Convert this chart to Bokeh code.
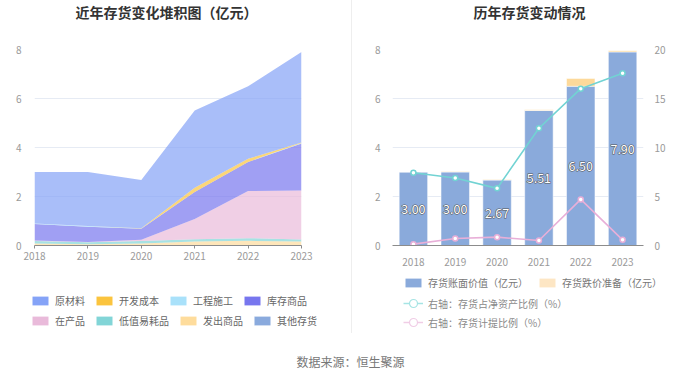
from bokeh.plotting import figure
from bokeh.models import (Range1d, FactorRange, LinearAxis, FixedTicker, Legend, LegendItem,
                          Label, ColumnDataSource, Div)
from bokeh.layouts import row, column
from bokeh.embed import file_html
from bokeh.resources import INLINE
from bokeh.core.properties import value

FONT = "Noto Sans CJK SC"

# ---------------- data ----------------
years = [2018, 2019, 2020, 2021, 2022, 2023]
year_labels = ["2018", "2019", "2020", "2021", "2022", "2023"]

# stacked inventory composition (亿元)
raw_material = [2.10, 2.20, 1.97, 3.15, 2.96, 3.70]   # 原材料
dev_cost = [0.00, 0.00, 0.01, 0.18, 0.13, 0.02]       # 开发成本
construction = [0.02, 0.03, 0.01, 0.00, 0.00, 0.02]   # 工程施工
goods_stock = [0.68, 0.63, 0.45, 1.10, 1.19, 1.91]    # 库存商品
wip = [0.02, 0.01, 0.05, 0.82, 1.92, 2.00]            # 在产品
low_value = [0.10, 0.08, 0.10, 0.10, 0.11, 0.09]      # 低值易耗品
shipped = [0.08, 0.05, 0.06, 0.15, 0.18, 0.15]        # 发出商品
other_inv = [0.00, 0.00, 0.02, 0.01, 0.01, 0.01]      # 其他存货

legend_names = ["原材料", "开发成本", "工程施工", "库存商品", "在产品", "低值易耗品", "发出商品", "其他存货"]
legend_colors = ["#85a3f7", "#fbc43e", "#a9e1fa", "#7776ee", "#e9bada", "#82d5d7", "#fedc9c", "#8aaadd"]

# right chart
book_value = [3.00, 3.00, 2.67, 5.51, 6.50, 7.90]          # 存货账面价值（亿元）
provision = [0.004, 0.022, 0.023, 0.028, 0.32, 0.046]     # 存货跌价准备（亿元）
ratio_net_assets = [7.43, 6.88, 5.83, 11.96, 16.0, 17.58]  # 存货占净资产比例（%）
provision_ratio = [0.14, 0.72, 0.85, 0.51, 4.70, 0.58]     # 存货计提比例（%）
right_legend = ["存货账面价值（亿元）", "存货跌价准备（亿元）", "右轴：存货占净资产比例（%）", "右轴：存货计提比例（%）"]

left_ticks = [0, 2, 4, 6, 8]
right_ticks = [0, 5, 10, 15, 20]

GRID = "#e6ebf4"
AXIS_TXT = "#9a9a9a"
AXIS_LINE = "#8c8c8c"
BAR_C = "#8aaadb"
PROV_C = "#fdd99a"
TEAL = "#72d3d3"
PINK = "#e8afd8"

LW = 351   # left column width
RW = 348   # right column width
CH = 236   # chart figure height
GH = 71    # legend panel height


def blank_fig(w, h):
    f = figure(width=w, height=h, output_backend="svg", toolbar_location=None,
               x_range=Range1d(0, 1), y_range=Range1d(0, 1), x_axis_type=None, y_axis_type=None,
               min_border=0, frame_align=False)
    f.outline_line_color = None
    f.grid.visible = False
    return f


def title_fig(w, text, cx):
    f = blank_fig(w, 38)
    f.add_layout(Label(x=cx, y=27, x_units="screen", y_units="screen", text=text,
                       text_align="center", text_baseline="middle", text_font=FONT,
                       text_font_size="14px", text_font_style="bold", text_color="#333333"))
    return f


def make_legend(fig, items, loc, color="#666666", gh=11):
    lg = Legend(items=items, orientation="horizontal", location=loc,
                glyph_width=20, glyph_height=gh, label_standoff=5, spacing=9,
                padding=0, margin=0, border_line_color=None, background_fill_alpha=0,
                label_text_font=FONT, label_text_font_size="10px",
                label_text_color=color, label_height=12, label_width=10)
    fig.add_layout(lg)
    return lg


def style_axis(ax):
    ax.major_label_text_font = FONT
    ax.major_label_text_font_size = "10px"
    ax.major_label_text_color = AXIS_TXT


# ---------------- left chart ----------------
pl = figure(width=LW, height=CH, output_backend="svg", toolbar_location=None,
            x_range=Range1d(2018, 2023), y_range=Range1d(0, 8), frame_align=False,
            min_border_left=34, min_border_right=LW - 301, min_border_top=11, min_border_bottom=29)
pl.outline_line_color = None

keys = ["other", "shipped", "low", "wip", "stock", "cons", "dev", "raw"]
src_l = ColumnDataSource(dict(year=years, other=other_inv, shipped=shipped, low=low_value,
                              wip=wip, stock=goods_stock, cons=construction, dev=dev_cost,
                              raw=raw_material))
stack_colors = [legend_colors[7], legend_colors[6], legend_colors[5], legend_colors[4],
                legend_colors[3], legend_colors[2], legend_colors[1], legend_colors[0]]
pl.varea_stack(stackers=keys, x="year", color=stack_colors, fill_alpha=0.7, source=src_l)

pl.xaxis.ticker = FixedTicker(ticks=years)
pl.yaxis.ticker = FixedTicker(ticks=left_ticks)
pl.ygrid.grid_line_color = GRID
pl.xgrid.grid_line_color = None
pl.yaxis.axis_line_color = None
pl.yaxis.major_tick_line_color = None
pl.yaxis.minor_tick_line_color = None
pl.yaxis.major_label_standoff = 7
pl.xaxis.axis_line_color = AXIS_LINE
pl.xaxis.major_tick_line_color = AXIS_LINE
pl.xaxis.major_tick_out = 3
pl.xaxis.major_tick_in = 0
pl.xaxis.minor_tick_line_color = None
pl.xaxis.major_label_standoff = 3
style_axis(pl.xaxis[0])
style_axis(pl.yaxis[0])

# left legend panel (swatch renderers use the data but lie outside this panel's 0..1 ranges)
gl = blank_fig(LW, GH)
sw_keys = ["raw", "dev", "cons", "stock", "wip", "low", "shipped", "other"]
sw = [gl.varea(x="year", y1=0, y2=k, source=src_l, fill_color=c, fill_alpha=1.0)
      for k, c in zip(sw_keys, legend_colors)]
make_legend(gl, [LegendItem(label=legend_names[i], renderers=[sw[i]]) for i in range(4)], (30, 37))
make_legend(gl, [LegendItem(label=legend_names[i], renderers=[sw[i]]) for i in range(4, 8)], (30, 17))

tl = title_fig(LW, "近年存货变化堆积图（亿元）", 166)

# ---------------- right chart ----------------
pr = figure(width=RW, height=CH, output_backend="svg", toolbar_location=None,
            x_range=FactorRange(*year_labels), y_range=Range1d(0, 8), frame_align=False,
            min_border_left=40, min_border_right=RW - 291, min_border_top=11, min_border_bottom=29)
pr.x_range.range_padding = 0
pr.x_range.factor_padding = 0
pr.outline_line_color = None
pr.extra_y_ranges = {"r": Range1d(0, 20)}

src_r = ColumnDataSource(dict(year=year_labels, yr=years, book=book_value, prov=provision,
                              ratio=ratio_net_assets, pratio=provision_ratio,
                              mid=[v / 2 for v in book_value],
                              lbl=["%.2f" % v for v in book_value]))

pr.vbar_stack(["book", "prov"], x="year", width=0.68, color=[BAR_C, PROV_C],
              line_color="white", line_alpha=0.5, line_width=1, source=src_r)

pr.line("year", "ratio", source=src_r, y_range_name="r", line_color=TEAL, line_width=1.6)
pr.scatter("year", "ratio", source=src_r, y_range_name="r", size=5, fill_color="white",
           line_color=TEAL, line_width=1.5)
pr.line("year", "pratio", source=src_r, y_range_name="r", line_color=PINK, line_width=1.6)
pr.scatter("year", "pratio", source=src_r, y_range_name="r", size=5, fill_color="white",
           line_color=PINK, line_width=1.5)

pr.text(x="year", y="mid", text="lbl", source=src_r, text_align="center", text_baseline="middle",
        text_font=value(FONT), text_font_size="12.5px", text_color="#555555",
        text_outline_color="#555555")
pr.text(x="year", y="mid", text="lbl", source=src_r, text_align="center", text_baseline="middle",
        text_font=value(FONT), text_font_size="12.5px", text_color="white")

raxis = LinearAxis(y_range_name="r", ticker=FixedTicker(ticks=right_ticks))
pr.add_layout(raxis, "right")
pr.yaxis[0].ticker = FixedTicker(ticks=left_ticks)
pr.ygrid.grid_line_color = GRID
pr.xgrid.grid_line_color = None
for ax in pr.yaxis:
    ax.axis_line_color = None
    ax.major_tick_line_color = None
    ax.minor_tick_line_color = None
    style_axis(ax)
pr.yaxis[0].major_label_standoff = 6
raxis.major_label_standoff = 5
pr.xaxis.axis_line_color = AXIS_LINE
pr.xaxis.major_tick_line_color = None
pr.xaxis.major_label_standoff = 6
style_axis(pr.xaxis[0])

# right legend panel (swatch renderers use the data but lie outside this panel's 0..1 ranges)
gr = blank_fig(RW, GH)
rb1 = gr.vbar(x="yr", top="book", source=src_r, width=0.5, fill_color=BAR_C, line_color=None)
rb2 = gr.vbar(x="yr", top="book", source=src_r, width=0.5, fill_color="#fde6c4", line_color=None)
rl1 = gr.line(x="yr", y="ratio", source=src_r, line_color="#a6e4e4", line_width=1.5)
rs1 = gr.scatter(x="yr", y="ratio", source=src_r, size=8, fill_color="white",
                 line_color="#a6e4e4", line_width=1.2)
rl2 = gr.line(x="yr", y="pratio", source=src_r, line_color="#f0cde6", line_width=1.5)
rs2 = gr.scatter(x="yr", y="pratio", source=src_r, size=8, fill_color="white",
                 line_color="#f0cde6", line_width=1.2)
make_legend(gr, [LegendItem(label=right_legend[0], renderers=[rb1]),
                 LegendItem(label=right_legend[1], renderers=[rb2])], (51, 55), "#777777")
make_legend(gr, [LegendItem(label=right_legend[2], renderers=[rl1, rs1])], (51, 32), "#8a8a8a", gh=20)
make_legend(gr, [LegendItem(label=right_legend[3], renderers=[rl2, rs2])], (51, 13), "#8a8a8a", gh=20)

tr = title_fig(RW, "历年存货变动情况", 177)

divider = Div(width=1, height=333, margin=0, styles={"background-color": "#eeeeee"})

# ---------------- source strip ----------------
ps = blank_fig(LW + 1 + RW, 33)
ps.add_layout(Label(x=350, y=17, x_units="screen", y_units="screen", text="数据来源：恒生聚源",
                    text_align="center", text_baseline="middle", text_font=FONT,
                    text_font_size="12px", text_color="#777777"))

layout = column(row(column(tl, pl, gl), divider, column(tr, pr, gr)), ps)
open("out.html", "w").write(file_html(layout, INLINE))
